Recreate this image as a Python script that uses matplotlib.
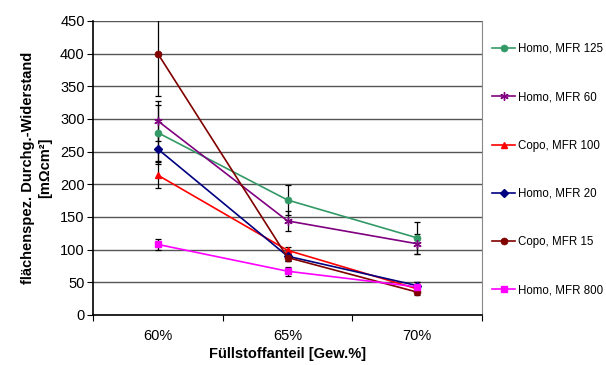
import matplotlib
matplotlib.use("Agg")
import matplotlib.pyplot as plt

plt.rcParams['font.family'] = ['Liberation Sans', 'DejaVu Sans']

# --- data ---
categories = ['60%', '65%', '70%']
series_names = ['Homo, MFR 125', 'Homo, MFR 60', 'Copo, MFR 100',
                'Homo, MFR 20', 'Copo, MFR 15', 'Homo, MFR 800']

homo_125 = [279, 176, 118]
homo_60 = [297, 144, 109]
copo_100 = [214, 99, 40]
homo_20 = [254, 90, 45]
copo_15 = [400, 88, 35]
homo_800 = [108, 67, 43]

err_homo_125 = [43, 23, 25]
err_homo_60 = [31, 15, 15]
err_copo_100 = [20, 5, 5]
err_homo_20 = [23, 8, 5]
err_copo_15 = [65, 6, 4]
err_homo_800 = [8, 7, 8]

values = [homo_125, homo_60, copo_100, homo_20, copo_15, homo_800]
errors = [err_homo_125, err_homo_60, err_copo_100, err_homo_20, err_copo_15, err_homo_800]
colors = ['#339966', '#800080', '#FF0000', '#000080', '#800000', '#FF00FF']
markers = ['o', (6, 2, 0), '^', 'D', 'o', 's']
msizes = [5, 6, 5, 4, 5, 5]

fig = plt.figure(figsize=(6.06, 3.65), dpi=100)
ax = fig.add_axes([0.1535, 0.137, 0.642, 0.8055])

xpos = list(range(len(categories)))
for vals, errs, c, m, ms, name in zip(values, errors, colors, markers, msizes, series_names):
    ax.errorbar(xpos, vals, yerr=errs, fmt='none', ecolor='black',
                elinewidth=0.9, capsize=2.5, capthick=0.9, zorder=2)
    ax.plot(xpos, vals, color=c, marker=m, markersize=ms, linewidth=1.2,
            markeredgewidth=1.0 if m != 'o' else 0.5, label=name, zorder=3)

ax.set_xlim(-0.5, 2.5)
ax.set_ylim(0, 450)
ax.set_yticks(range(0, 451, 50))
ax.yaxis.grid(True, color='#555555', linewidth=1.0)
ax.set_axisbelow(True)

ax.set_xticks([-0.5, 0.5, 1.5, 2.5])
ax.set_xticklabels([])
ax.set_xticks(xpos, minor=True)
ax.set_xticklabels(categories, minor=True)
ax.tick_params(axis='x', which='minor', length=0, pad=10, labelsize=10.5)
ax.tick_params(axis='x', which='major', length=4, direction='out')
ax.tick_params(axis='y', length=4, direction='out', labelsize=10.5, pad=2)

ax.spines['top'].set_visible(False)
ax.spines['right'].set_color('#888888')
ax.spines['right'].set_linewidth(0.8)
ax.spines['left'].set_linewidth(1.2)
ax.spines['bottom'].set_linewidth(1.2)

ax.set_xlabel('Füllstoffanteil [Gew.%]', fontsize=10.5, fontweight='bold', labelpad=3)
ax.set_ylabel('flächenspez. Durchg.-Widerstand\n[mΩcm²]', fontsize=10.5,
              fontweight='bold', labelpad=6, linespacing=1.25)

fig.legend(loc='upper left', bbox_to_anchor=(0.805, 0.895), frameon=False,
           fontsize=8.3, labelspacing=3.15, handlelength=2.0, handletextpad=0.2,
           borderaxespad=0)

fig.savefig('out.png', dpi=100)
